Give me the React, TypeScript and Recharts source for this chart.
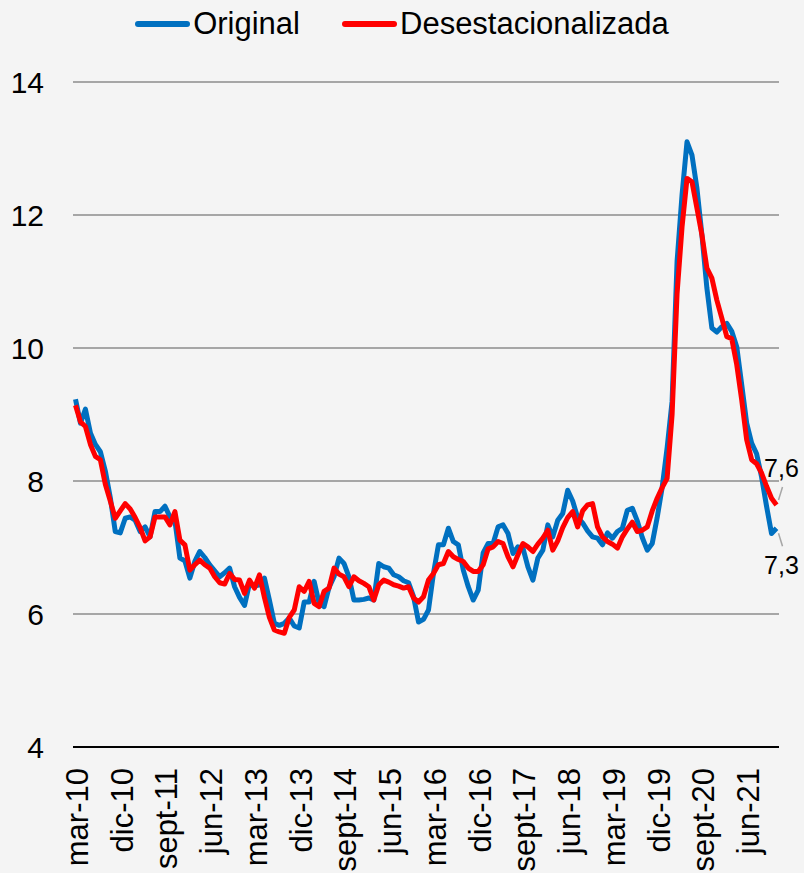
import React from 'react';
import { LineChart, Line, XAxis, YAxis, CartesianGrid, Legend, LabelList } from 'recharts';

const CATEGORIES: string[] = [
  'mar-10', 'abr-10', 'may-10', 'jun-10', 'jul-10', 'ago-10', 'sept-10', 'oct-10', 'nov-10', 'dic-10',
  'ene-11', 'feb-11', 'mar-11', 'abr-11', 'may-11', 'jun-11', 'jul-11', 'ago-11', 'sept-11', 'oct-11', 'nov-11', 'dic-11',
  'ene-12', 'feb-12', 'mar-12', 'abr-12', 'may-12', 'jun-12', 'jul-12', 'ago-12', 'sept-12', 'oct-12', 'nov-12', 'dic-12',
  'ene-13', 'feb-13', 'mar-13', 'abr-13', 'may-13', 'jun-13', 'jul-13', 'ago-13', 'sept-13', 'oct-13', 'nov-13', 'dic-13',
  'ene-14', 'feb-14', 'mar-14', 'abr-14', 'may-14', 'jun-14', 'jul-14', 'ago-14', 'sept-14', 'oct-14', 'nov-14', 'dic-14',
  'ene-15', 'feb-15', 'mar-15', 'abr-15', 'may-15', 'jun-15', 'jul-15', 'ago-15', 'sept-15', 'oct-15', 'nov-15', 'dic-15',
  'ene-16', 'feb-16', 'mar-16', 'abr-16', 'may-16', 'jun-16', 'jul-16', 'ago-16', 'sept-16', 'oct-16', 'nov-16', 'dic-16',
  'ene-17', 'feb-17', 'mar-17', 'abr-17', 'may-17', 'jun-17', 'jul-17', 'ago-17', 'sept-17', 'oct-17', 'nov-17', 'dic-17',
  'ene-18', 'feb-18', 'mar-18', 'abr-18', 'may-18', 'jun-18', 'jul-18', 'ago-18', 'sept-18', 'oct-18', 'nov-18', 'dic-18',
  'ene-19', 'feb-19', 'mar-19', 'abr-19', 'may-19', 'jun-19', 'jul-19', 'ago-19', 'sept-19', 'oct-19', 'nov-19', 'dic-19',
  'ene-20', 'feb-20', 'mar-20', 'abr-20', 'may-20', 'jun-20', 'jul-20', 'ago-20', 'sept-20', 'oct-20', 'nov-20', 'dic-20',
  'ene-21', 'feb-21', 'mar-21', 'abr-21', 'may-21', 'jun-21', 'jul-21', 'ago-21', 'sept-21', 'oct-21', 'nov-21', 'dic-21',
];

const ORIGINAL: number[] = [
  9.23, 8.87, 9.08, 8.72, 8.55, 8.44, 8.15, 7.75, 7.24, 7.22,
  7.44, 7.46, 7.41, 7.24, 7.31, 7.16, 7.54, 7.54, 7.62, 7.46, 7.40, 6.84,
  6.80, 6.54, 6.79, 6.94, 6.85, 6.74, 6.65, 6.56, 6.62, 6.69, 6.41, 6.25,
  6.13, 6.46, 6.42, 6.44, 6.54, 6.21, 5.86, 5.83, 5.86, 5.94, 5.82, 5.79,
  6.18, 6.18, 6.49, 6.16, 6.11, 6.40, 6.56, 6.84, 6.76, 6.56, 6.21, 6.21,
  6.22, 6.24, 6.21, 6.76, 6.71, 6.69, 6.59, 6.56, 6.50, 6.47, 6.26, 5.88,
  5.92, 6.06, 6.61, 7.04, 7.04, 7.29, 7.09, 7.04, 6.66, 6.41, 6.21, 6.36,
  6.92, 7.06, 7.06, 7.31, 7.34, 7.21, 6.91, 7.01, 6.99, 6.71, 6.51, 6.84,
  6.96, 7.34, 7.16, 7.41, 7.51, 7.86, 7.70, 7.45, 7.37, 7.25, 7.16, 7.14,
  7.04, 7.22, 7.14, 7.24, 7.29, 7.56, 7.59, 7.40, 7.15, 6.96, 7.06, 7.45,
  7.90, 8.50, 9.20, 11.30, 12.30, 13.10, 12.90, 12.40, 11.70, 10.90, 10.30, 10.24,
  10.32, 10.37, 10.25, 10.02, 9.45, 8.87, 8.57, 8.41, 8.06, 7.62, 7.21, 7.29,
];

const DESESTACIONALIZADA: number[] = [
  9.14, 8.89, 8.82, 8.55, 8.37, 8.32, 7.95, 7.70, 7.44, 7.55,
  7.66, 7.58, 7.45, 7.30, 7.10, 7.16, 7.46, 7.46, 7.46, 7.34, 7.54, 7.11,
  7.04, 6.66, 6.74, 6.81, 6.74, 6.69, 6.56, 6.47, 6.45, 6.61, 6.52, 6.51,
  6.31, 6.51, 6.39, 6.59, 6.25, 5.95, 5.76, 5.73, 5.71, 5.95, 6.06, 6.41,
  6.34, 6.49, 6.16, 6.11, 6.34, 6.39, 6.69, 6.60, 6.56, 6.41, 6.56, 6.50,
  6.46, 6.41, 6.21, 6.44, 6.51, 6.48, 6.44, 6.42, 6.39, 6.41, 6.24, 6.18,
  6.26, 6.51, 6.61, 6.74, 6.76, 6.94, 6.86, 6.82, 6.79, 6.69, 6.64, 6.64,
  6.74, 6.98, 7.01, 7.09, 7.06, 6.86, 6.71, 6.89, 7.06, 7.01, 6.94, 7.05,
  7.14, 7.26, 6.96, 7.10, 7.30, 7.45, 7.54, 7.31, 7.55, 7.64, 7.66, 7.31,
  7.16, 7.09, 7.05, 6.99, 7.16, 7.28, 7.38, 7.24, 7.26, 7.31, 7.55, 7.74,
  7.90, 8.04, 9.00, 10.82, 11.82, 12.55, 12.50, 12.10, 11.70, 11.20, 11.05, 10.72,
  10.45, 10.17, 10.14, 9.75, 9.22, 8.62, 8.32, 8.26, 8.12, 7.92, 7.74, 7.64,
];

const Y_TICKS: number[] = [4, 6, 8, 10, 12, 14];
const SERIES_NAMES: string[] = ['Original', 'Desestacionalizada'];
const SERIES_COLORS: string[] = ['#0070C0', '#FF0000'];

const data = CATEGORIES.map((m, i) => ({
  m,
  original: ORIGINAL[i],
  desest: DESESTACIONALIZADA[i],
}));

const FONT = '"Liberation Sans", Arial, Helvetica, sans-serif';
const LAST = CATEGORIES.length - 1;

const fmt = (v: number) => v.toFixed(1).replace('.', ',');

function XTick(props: any) {
  const { x, y, payload } = props;
  return (
    <text
      transform={`translate(${x + 2},${y}) rotate(-90)`}
      textAnchor="end"
      dominantBaseline="central"
      fontSize={31}
      fontFamily={FONT}
      fill="#000"
    >
      {payload.value}
    </text>
  );
}

function EndLabelAbove(props: any) {
  const { x, y, index, value } = props;
  if (index !== LAST) return null;
  return (
    <g>
      <line x1={x + 2} y1={y - 5} x2={x + 6} y2={y - 18} stroke="#a6a6a6" strokeWidth={1.5} />
      <text x={x + 5} y={y - 37} textAnchor="middle" dominantBaseline="central" fontSize={25} fontFamily={FONT} fill="#000">
        {fmt(value)}
      </text>
    </g>
  );
}

function EndLabelBelow(props: any) {
  const { x, y, index, value } = props;
  if (index !== LAST) return null;
  return (
    <g>
      <line x1={x + 2} y1={y + 5} x2={x + 6} y2={y + 18} stroke="#a6a6a6" strokeWidth={1.5} />
      <text x={x + 5} y={y + 37} textAnchor="middle" dominantBaseline="central" fontSize={25} fontFamily={FONT} fill="#000">
        {fmt(value)}
      </text>
    </g>
  );
}

function LegendContent() {
  return (
    <div
      style={{
        width: 804,
        height: 82,
        display: 'flex',
        justifyContent: 'center',
        alignItems: 'flex-start',
        fontFamily: FONT,
      }}
    >
      {SERIES_NAMES.map((name, i) => (
        <div
          key={name}
          style={{
            display: 'flex',
            alignItems: 'center',
            height: 48,
            marginRight: i === 0 ? 42 : 0,
          }}
        >
          <span
            style={{
              display: 'inline-block',
              width: 55,
              height: 6,
              borderRadius: 3,
              background: SERIES_COLORS[i],
              marginRight: 3,
            }}
          />
          <span style={{ fontSize: 31, color: '#000', lineHeight: '48px' }}>{name}</span>
        </div>
      ))}
    </div>
  );
}

export default function App() {
  return (
    <div
      style={{
        position: 'absolute',
        left: 0,
        top: 0,
        width: 804,
        height: 873,
        background: '#f4f4f4',
        overflow: 'hidden',
      }}
    >
      <LineChart width={804} height={873} data={data} margin={{ top: 0, right: 25, bottom: 0, left: 0 }}>
        <Legend
          verticalAlign="top"
          align="left"
          content={<LegendContent />}
          wrapperStyle={{ top: 0, left: 0, width: 804, height: 82 }}
        />
        <CartesianGrid vertical={false} stroke="#a6a6a6" strokeWidth={2} />
        <XAxis
          dataKey="m"
          interval={8}
          padding={{ left: 2.5, right: 2.5 }}
          height={126}
          tickLine={false}
          tickMargin={15}
          axisLine={{ stroke: '#000', strokeWidth: 2 }}
          tick={<XTick />}
        />
        <YAxis
          domain={[4, 14]}
          ticks={Y_TICKS}
          width={73}
          tickLine={false}
          axisLine={false}
          tickMargin={23}
          tick={{ fontSize: 30, fill: '#000', fontFamily: FONT }}
        />
        <Line
          type="linear"
          dataKey="original"
          name={SERIES_NAMES[0]}
          stroke={SERIES_COLORS[0]}
          strokeWidth={5}
          strokeLinejoin="round"
          dot={false}
          isAnimationActive={false}
        >
          <LabelList dataKey="original" content={<EndLabelBelow />} />
        </Line>
        <Line
          type="linear"
          dataKey="desest"
          name={SERIES_NAMES[1]}
          stroke={SERIES_COLORS[1]}
          strokeWidth={5}
          strokeLinejoin="round"
          dot={false}
          isAnimationActive={false}
        >
          <LabelList dataKey="desest" content={<EndLabelAbove />} />
        </Line>
      </LineChart>
    </div>
  );
}
